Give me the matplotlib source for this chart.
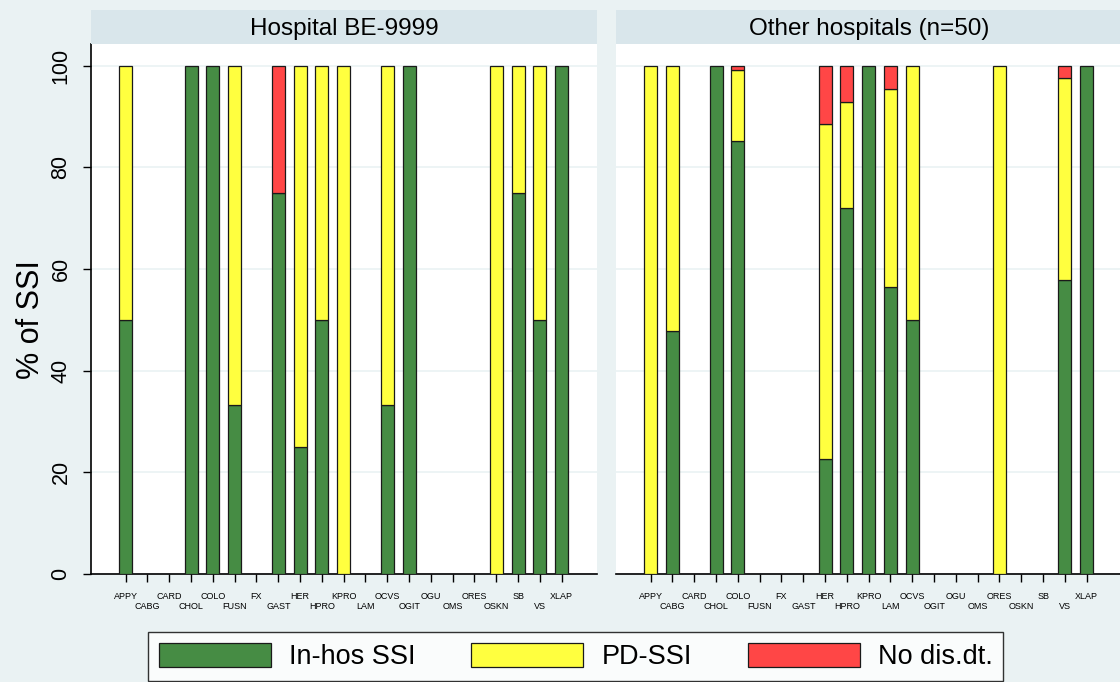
import numpy as np
import matplotlib
matplotlib.use("Agg")
import matplotlib.pyplot as plt
from matplotlib.patches import Patch

plt.rcParams['font.family'] = ['Liberation Sans', 'DejaVu Sans']

cats = ["APPY", "CABG", "CARD", "CHOL", "COLO", "FUSN", "FX", "GAST", "HER", "HPRO", "KPRO",
        "LAM", "OCVS", "OGIT", "OGU", "OMS", "ORES", "OSKN", "SB", "VS", "XLAP"]

# Hospital BE-9999
own_inhos = [50, 0, 0, 100, 100, 33.3, 0, 75, 25, 50, 0, 0, 33.3, 100, 0, 0, 0, 0, 75, 50, 100]
own_pd = [50, 0, 0, 0, 0, 66.7, 0, 0, 75, 50, 100, 0, 66.7, 0, 0, 0, 0, 100, 25, 50, 0]
own_nodis = [0, 0, 0, 0, 0, 0, 0, 25, 0, 0, 0, 0, 0, 0, 0, 0, 0, 0, 0, 0, 0]

# Other hospitals (n=50)
oth_inhos = [0, 47.8, 0, 100, 85.3, 0, 0, 0, 22.7, 72.0, 100, 56.5, 50, 0, 0, 0, 0, 0, 0, 57.9, 100]
oth_pd = [100, 52.2, 0, 0, 13.8, 0, 0, 0, 65.9, 20.8, 0, 39.0, 50, 0, 0, 0, 100, 0, 0, 39.7, 0]
oth_nodis = [0, 0, 0, 0, 0.9, 0, 0, 0, 11.4, 7.2, 0, 4.5, 0, 0, 0, 0, 0, 0, 0, 2.4, 0]

titles = ["Hospital BE-9999", "Other hospitals (n=50)"]
labels = ["In-hos SSI", "PD-SSI", "No dis.dt."]
colors = ["#468C44", "#FFFF3F", "#FF4646"]

bg = "#EAF2F3"
strip = "#D9E6EB"

fig = plt.figure(figsize=(11.2, 6.82), dpi=100, facecolor=bg)

W, H = 1120, 682
def rect(x0, y0, x1, y1):
    return [x0 / W, 1 - y1 / H, (x1 - x0) / W, (y1 - y0) / H]

panels = [(own_inhos, own_pd, own_nodis), (oth_inhos, oth_pd, oth_nodis)]
lefts = [91, 616]
x = np.arange(len(cats))

for k in range(2):
    x0 = lefts[k]
    ax = fig.add_axes(rect(x0, 44, x0 + 506, 574))
    ax.set_facecolor("white")
    st = fig.add_axes(rect(x0, 10, x0 + 506, 44))
    st.set_facecolor(strip)
    st.set_xticks([]); st.set_yticks([])
    for s in st.spines.values():
        s.set_visible(False)
    st.text(0.5, 0.45, titles[k], ha="center", va="center", fontsize=17.5, transform=st.transAxes)

    bottom = np.zeros(len(cats))
    for vals, c in zip(panels[k], colors):
        vals = np.array(vals, dtype=float)
        m = vals > 0
        ax.bar(x[m], vals[m], width=0.6, bottom=bottom[m], color=c,
               edgecolor="#1a1a1a", linewidth=0.9, zorder=3)
        bottom += vals

    ax.set_xlim(-1.59, 21.62)
    ax.set_ylim(0, 104.3)
    ax.set_yticks([0, 20, 40, 60, 80, 100])
    ax.grid(axis="y", color=bg, linewidth=1.2, zorder=0)
    # staggered labels: even ones on the upper row, odd ones on the lower row
    ax.set_xticks(x[::2])
    ax.set_xticklabels(cats[::2], fontsize=6.5)
    ax.set_xticks(x[1::2], minor=True)
    ax.set_xticklabels(cats[1::2], minor=True, fontsize=6.5)
    ax.tick_params(axis="x", which="major", length=6, width=1, pad=7)
    ax.tick_params(axis="x", which="minor", length=6, width=1, pad=14)
    for s in ["top", "right"]:
        ax.spines[s].set_visible(False)
    ax.spines["bottom"].set_linewidth(1.2)
    if k == 0:
        ax.spines["left"].set_linewidth(1.2)
        ax.tick_params(axis="y", length=6, width=1, pad=8)
        for t in ax.get_yticklabels():
            t.set_rotation(90)
            t.set_va("center")
            t.set_fontsize(15.5)
        ax.set_ylabel("% of SSI", fontsize=22)
        ax.yaxis.set_label_coords(-0.088, 50 / 104.3)
    else:
        ax.spines["left"].set_visible(False)
        ax.tick_params(axis="y", left=False, labelleft=False)

handles = [Patch(facecolor=c, edgecolor="#1a1a1a", linewidth=0.9) for c in colors]
fs = 19.5
fs_px = fs * 100 / 72
leg = fig.legend(handles, labels, ncol=3, loc="upper left", bbox_to_anchor=(148 / W, 1 - 632 / H),
                 fontsize=fs, frameon=True, fancybox=False, edgecolor="black",
                 handlelength=112 / fs_px, handleheight=27 / fs_px, handletextpad=18 / fs_px,
                 columnspacing=56 / fs_px, borderpad=0.4, borderaxespad=0)
leg.get_frame().set_linewidth(1.0)
leg.get_frame().set_facecolor("white")

fig.savefig("out.png", dpi=100, facecolor=bg)
